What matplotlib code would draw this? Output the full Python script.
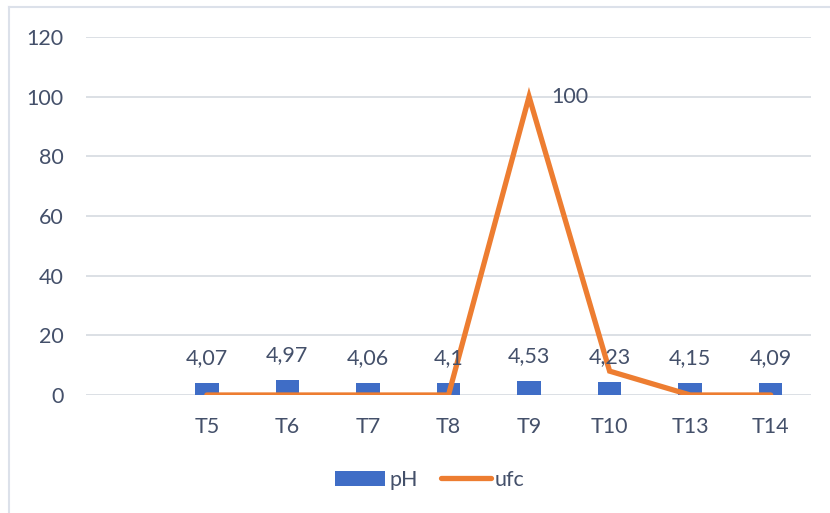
import numpy as np
import matplotlib.pyplot as plt
from matplotlib.lines import Line2D

# category axis (first slot left empty)
categories = ["", "T5", "T6", "T7", "T8", "T9", "T10", "T13", "T14"]
ph = [np.nan, 4.07, 4.97, 4.06, 4.10, 4.53, 4.23, 4.15, 4.09]
ph_labels = ["", "4,07", "4,97", "4,06", "4,1", "4,53", "4,23", "4,15", "4,09"]
ufc = [np.nan, 0, 0, 0, 0, 100, 8, 0, 0]

text_col = "#44506A"
bar_col = "#3F6DC6"
line_col = "#ED7D31"
grid_col = "#D9DDE3"
fs = 15.5

plt.rcParams["font.family"] = ["Lato", "DejaVu Sans"]

fig = plt.figure(figsize=(8.3, 5.13), dpi=100)
ax = fig.add_axes([86 / 830, 1 - 395 / 513, (811 - 86) / 830, (395 - 37) / 513])

x = np.arange(len(categories))
bars = ax.bar(x, ph, width=0.29, color=bar_col, zorder=2, label="pH")
ax.plot(x, ufc, color=line_col, lw=3.8, solid_capstyle="round",
        solid_joinstyle="miter", zorder=3, label="ufc")

# data labels
for xi, v, lab in zip(x, ph, ph_labels):
    if lab:
        ax.annotate(lab, (xi, v), xytext=(0, 18), textcoords="offset points",
                    ha="center", va="center", fontsize=fs, color=text_col, zorder=4)
peak = int(np.nanargmax(ufc))
ax.annotate(f"{ufc[peak]:g}", (x[peak], ufc[peak]), xytext=(16, 0),
            textcoords="offset points", ha="left", va="center",
            fontsize=fs, color=text_col)

ax.set_xlim(-0.5, len(categories) - 0.5)
ax.set_ylim(0, 120)
ax.set_yticks(range(0, 121, 20))
ax.set_xticks(x)
ax.set_xticklabels(categories)
ax.yaxis.grid(True, color=grid_col, lw=1.3)
ax.set_axisbelow(True)
for s in ax.spines.values():
    s.set_visible(False)
ax.tick_params(axis="both", length=0, labelsize=fs, colors=text_col)
ax.tick_params(axis="y", pad=16)
ax.tick_params(axis="x", pad=16)

leg = fig.legend(handles=[bars, ax.lines[0]], labels=["pH", "ufc"], loc="center",
                 bbox_to_anchor=(430 / 830, 1 - 480 / 513), ncol=2, frameon=False,
                 fontsize=fs, handlelength=2.3, handleheight=0.7,
                 handletextpad=0.2, columnspacing=1.1, labelcolor=text_col)

# chart area frame
fig.add_artist(Line2D([9 / 830, 9 / 830], [0, 1 - 7 / 513], color="#DCE1EA", lw=1.5))
fig.add_artist(Line2D([9 / 830, 1], [1 - 7 / 513, 1 - 7 / 513], color="#DCE1EA", lw=1.5))

fig.savefig("out.png", dpi=100)
